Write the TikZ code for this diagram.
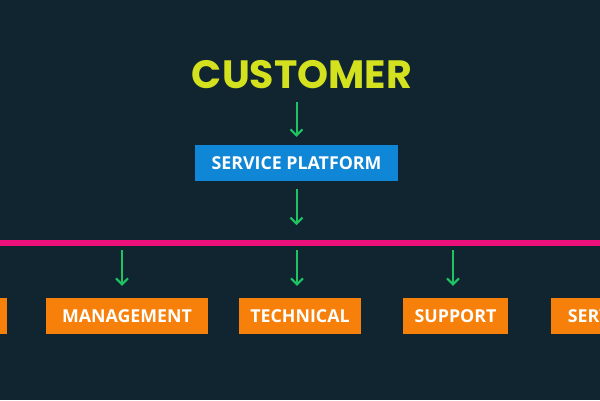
\documentclass[tikz,border=0pt]{standalone}
\usepackage{fontspec}
\setmainfont{Open Sans}
\newfontfamily\titlefont{Poppins}
\usetikzlibrary{arrows.meta}
\definecolor{bgnavy}{RGB}{16,37,48}
\definecolor{titleyellow}{RGB}{212,225,30}
\definecolor{arrowgreen}{RGB}{30,196,98}
\definecolor{boxblue}{RGB}{15,134,214}
\definecolor{buspink}{RGB}{236,16,122}
\definecolor{boxorange}{RGB}{247,128,11}
\begin{document}
\begin{tikzpicture}[x=1pt,y=-1pt,
  arr/.style={draw=arrowgreen, line width=2pt, -{Straight Barb[length=6pt,width=12pt,line width=2pt]}},
  labelfont/.style={font=\bfseries\fontsize{17.8}{18}\selectfont, text=white},
  bluebox/.style={fill=boxblue, labelfont, minimum height=36pt, inner sep=0pt},
  orangebox/.style={fill=boxorange, labelfont, minimum height=36pt, inner sep=0pt},
  bus/.style={draw=buspink, line width=6pt}]
\fill[bgnavy] (0,0) rectangle (600,400);
\useasboundingbox (0,0) rectangle (600,400);
\clip (0,0) rectangle (600,400);
\node[font=\titlefont\bfseries\fontsize{39.5}{40}\selectfont, text=titleyellow, inner sep=0pt] (customer) at (302,75) {CUSTOMER};
\node[bluebox, minimum width=203pt] (platform) at (296.5,163) {SERVICE PLATFORM};
\coordinate (busL) at (0,243);
\coordinate (busR) at (600,243);
\draw[bus] (busL) -- (busR);
\node[orangebox, minimum width=107pt] (leftbox) at (-46.5,316) {};
\node[orangebox, minimum width=162pt] (mgmt) at (127,316) {MANAGEMENT};
\node[orangebox, minimum width=122pt] (tech) at (300,316) {TECHNICAL};
\node[orangebox, minimum width=105pt] (support) at (455.5,316) {SUPPORT};
\node[orangebox, minimum width=104pt] (service) at (603,316) {SERVICE};
\draw[arr, shorten <=13pt, shorten >=8pt] (platform.north |- customer.south) -- (platform.north);
\draw[arr, shorten <=8pt, shorten >=18pt] (platform.south) -- (platform.south |- busL);
\draw[arr, shorten <=7pt, shorten >=12pt] ([xshift=-5pt]mgmt.north |- busL) -- ([xshift=-5pt]mgmt.north);
\draw[arr, shorten <=7pt, shorten >=12pt] ([xshift=-3pt]tech.north |- busL) -- ([xshift=-3pt]tech.north);
\draw[arr, shorten <=7pt, shorten >=12pt] ([xshift=-2.5pt]support.north |- busL) -- ([xshift=-2.5pt]support.north);
\end{tikzpicture}
\end{document}
